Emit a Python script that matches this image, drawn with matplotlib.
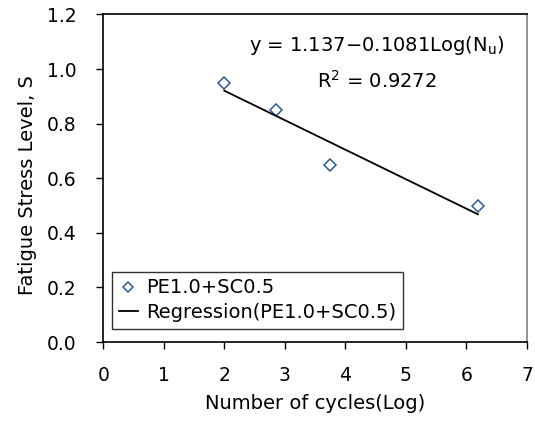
import numpy as np
import matplotlib
matplotlib.use('Agg')
import matplotlib.pyplot as plt

plt.rcParams['font.family'] = ['DejaVu Sans']
plt.rcParams['mathtext.default'] = 'regular'

# fatigue test results (log cycles vs stress level)
log_cycles = [2.0, 2.86, 3.75, 6.19]
stress_level = [0.95, 0.85, 0.65, 0.50]
series_label = 'PE1.0+SC0.5'

# regression coefficients: S = a - b*Log(Nu)
coef_a = 1.137
coef_b = 0.1081
r_squared = 0.9272

x_ticks = [0, 1, 2, 3, 4, 5, 6, 7]
y_ticks = [0.0, 0.2, 0.4, 0.6, 0.8, 1.0, 1.2]

fig = plt.figure(figsize=(5.35, 4.21), dpi=100)
ax = fig.add_axes([0.193, 0.1876, 0.792, 0.778])

fit_x = np.array([min(log_cycles), max(log_cycles)])
fit_y = coef_a - coef_b * fit_x

ax.plot(log_cycles, stress_level, linestyle='none', marker='D', ms=6.5,
        mfc='white', mec='#2F5C8C', mew=1.1, label=series_label)
ax.plot(fit_x, fit_y, color='black', lw=1.3,
        label=f'Regression({series_label})')

ax.text(4.52, 1.088, f'y = {coef_a}$-${coef_b}Log(N$_{{u}}$)',
        fontsize=14, ha='center', va='center')
ax.text(4.52, 0.956, f'R$^2$ = {r_squared}',
        fontsize=14, ha='center', va='center')

ax.set_xlim(0, 7)
ax.set_ylim(0, 1.2)
ax.set_xticks(x_ticks)
ax.set_yticks(y_ticks)
ax.set_yticklabels([f'{v:.1f}' for v in y_ticks])

ax.tick_params(axis='both', direction='out', length=5, width=1,
               labelsize=13.5)
ax.tick_params(axis='y', pad=14)
ax.tick_params(axis='x', pad=12)
for side in ['left', 'bottom', 'top']:
    ax.spines[side].set_linewidth(1.2)
ax.spines['right'].set_color('#808080')
ax.spines['right'].set_linewidth(1.2)

ax.set_xlabel('Number of cycles(Log)', fontsize=14, labelpad=7)
ax.set_ylabel('Fatigue Stress Level, S', fontsize=14)
ax.yaxis.set_label_coords(-0.157, 0.479)

leg = ax.legend(loc='upper left', bbox_to_anchor=(0.02, 0.215),
                fontsize=14, frameon=True, fancybox=False,
                handlelength=1.0, handletextpad=0.4, markerscale=0.85,
                borderpad=0.35, labelspacing=0.3, borderaxespad=0)
leg.get_frame().set_edgecolor('black')
leg.get_frame().set_linewidth(1.0)

fig.savefig('out.png', dpi=100)
plt.close(fig)
